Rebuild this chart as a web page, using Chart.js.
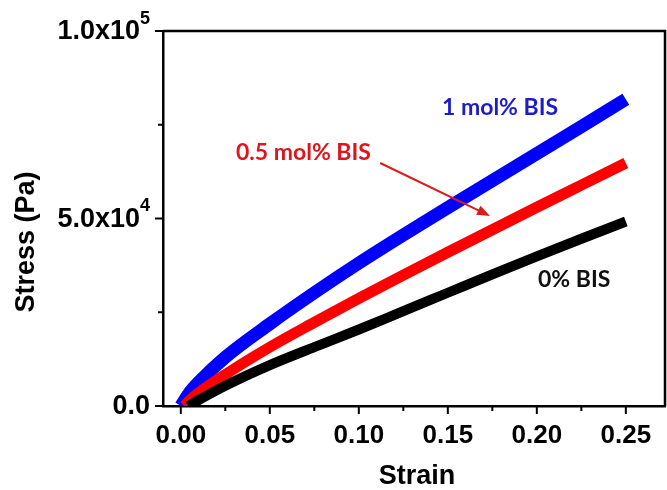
<!DOCTYPE html>
<html><head><meta charset="utf-8">
<script src="https://cdn.jsdelivr.net/npm/chart.js@4/dist/chart.umd.min.js"></script>
<style>html,body{margin:0;padding:0;background:#fff}</style>
</head><body>
<canvas id="c" width="667" height="490"></canvas>
<script>
// ---- data ----
const seriesNames = ['0% BIS', '0.5 mol% BIS', '1 mol% BIS'];
const strainBlack = [0.004, 0.01, 0.025, 0.05, 0.075, 0.1, 0.125, 0.15, 0.175, 0.2, 0.225, 0.25];
const stressBlack = [0, 1600, 5400, 10900, 15700, 20400, 25300, 30200, 35100, 39900, 44600, 49200];
const strainRed = [0.002, 0.005, 0.01, 0.025, 0.05, 0.075, 0.1, 0.125, 0.15, 0.175, 0.2, 0.225, 0.25];
const stressRed = [0, 1500, 3500, 8400, 15700, 22300, 28700, 34900, 41000, 47000, 53000, 58900, 64800];
const strainBlue = [0, 0.005, 0.01, 0.025, 0.05, 0.075, 0.1, 0.125, 0.15, 0.175, 0.2, 0.225, 0.25];
const stressBlue = [0, 3600, 6300, 13000, 21900, 30200, 38100, 45600, 52900, 60100, 67300, 74500, 81800];
const xTickValues = [0, 0.05, 0.10, 0.15, 0.20, 0.25];
const xMinorValues = [0.025, 0.075, 0.125, 0.175, 0.225];
const yTickValues = [0, 50000, 100000];
const yTickMain = ['0.0', '5.0x10', '1.0x10'];
const yTickSup = ['', '4', '5'];
const yMinorValues = [25000, 75000];

const pts = (xs, ys) => xs.map((x, i) => ({x: x, y: ys[i]}));
const AX = "'Liberation Sans', Arial, sans-serif";
const CAL = "Lato, 'Open Sans', sans-serif";

const deco = {
  id: 'deco',
  afterDraw(chart) {
    const c = chart.ctx, xs = chart.scales.x, ys = chart.scales.y, a = chart.chartArea;
    c.save();
    c.strokeStyle = '#000'; c.lineWidth = 2.5; c.lineCap = 'butt';
    // frame top and right
    c.beginPath();
    c.moveTo(a.left, a.top); c.lineTo(a.right, a.top); c.lineTo(a.right, a.bottom);
    c.stroke();
    // ticks
    c.lineWidth = 2;
    xTickValues.forEach(v => { const p = xs.getPixelForValue(v); c.beginPath(); c.moveTo(p, a.bottom); c.lineTo(p, a.bottom + 8); c.stroke(); });
    xMinorValues.forEach(v => { const p = xs.getPixelForValue(v); c.beginPath(); c.moveTo(p, a.bottom); c.lineTo(p, a.bottom + 5); c.stroke(); });
    yTickValues.forEach(v => { const p = ys.getPixelForValue(v); c.beginPath(); c.moveTo(a.left, p); c.lineTo(a.left - 8, p); c.stroke(); });
    yMinorValues.forEach(v => { const p = ys.getPixelForValue(v); c.beginPath(); c.moveTo(a.left, p); c.lineTo(a.left - 5, p); c.stroke(); });
    // y tick labels with superscripts
    c.fillStyle = '#000'; c.textBaseline = 'middle';
    yTickValues.forEach((v, i) => {
      const p = ys.getPixelForValue(v);
      c.font = 'bold 18px ' + AX;
      const sw = yTickSup[i] ? c.measureText(yTickSup[i]).width : 0;
      const right = a.left - 13;
      c.textAlign = 'right';
      if (yTickSup[i]) c.fillText(yTickSup[i], right, p - 12);
      c.font = 'bold 27px ' + AX;
      c.fillText(yTickMain[i], right - sw, p + 1);
    });
    // axis titles
    c.font = 'bold 27px ' + AX; c.textAlign = 'center';
    c.fillText('Strain', (a.left + a.right) / 2 + 3, 477);
    c.save(); c.translate(27, 242); c.rotate(-Math.PI / 2); c.fillText('Stress (Pa)', 0, 0); c.restore();
    // annotations
    c.textAlign = 'left';
    c.font = 'bold 23px ' + CAL;
    c.fillStyle = '#1c1cc8'; c.fillText('1 mol% BIS', 442, 108);
    c.fillStyle = '#e0141c'; c.fillText('0.5 mol% BIS', 236, 153);
    c.fillStyle = '#111'; c.fillText('0% BIS', 538, 280);
    // arrow
    const x0 = xs.getPixelForValue(0.112), y0 = ys.getPixelForValue(64800);
    const x1 = xs.getPixelForValue(0.1737), y1 = ys.getPixelForValue(50700);
    const ang = Math.atan2(y1 - y0, x1 - x0);
    c.strokeStyle = '#dd1a1a'; c.fillStyle = '#dd1a1a'; c.lineWidth = 2;
    c.beginPath(); c.moveTo(x0, y0); c.lineTo(x1 - 10 * Math.cos(ang), y1 - 10 * Math.sin(ang)); c.stroke();
    c.beginPath();
    c.moveTo(x1, y1);
    c.lineTo(x1 - 13 * Math.cos(ang) + 5 * Math.sin(ang), y1 - 13 * Math.sin(ang) - 5 * Math.cos(ang));
    c.lineTo(x1 - 13 * Math.cos(ang) - 5 * Math.sin(ang), y1 - 13 * Math.sin(ang) + 5 * Math.cos(ang));
    c.closePath(); c.fill();
    c.restore();
  }
};

new Chart(document.getElementById('c').getContext('2d'), {
  type: 'line',
  data: {
    datasets: [
      {label: seriesNames[0], data: pts(strainBlack, stressBlack), borderColor: '#000000', borderWidth: 10},
      {label: seriesNames[1], data: pts(strainRed, stressRed), borderColor: '#ff0000', borderWidth: 11},
      {label: seriesNames[2], data: pts(strainBlue, stressBlue), borderColor: '#0000ff', borderWidth: 13}
    ]
  },
  options: {
    responsive: false,
    animation: false,
    layout: {padding: {top: 31, right: 2, left: 0, bottom: 0}},
    elements: {point: {radius: 0}, line: {cubicInterpolationMode: 'monotone', fill: false}},
    plugins: {legend: {display: false}, tooltip: {enabled: false}},
    scales: {
      x: {
        type: 'linear', min: -0.01, max: 0.272,
        afterBuildTicks: s => { s.ticks = xTickValues.map(v => ({value: v})); },
        afterFit: s => { s.height = 84; },
        ticks: {callback: v => v.toFixed(2), color: '#000', padding: 6, maxRotation: 0, autoSkip: false,
                font: {family: 'Liberation Sans', size: 26, weight: 'bold'}},
        grid: {display: false},
        border: {display: true, color: '#000', width: 2.5}
      },
      y: {
        type: 'linear', min: 0, max: 100000,
        afterFit: s => { s.width = 163; },
        ticks: {display: false},
        grid: {display: false},
        border: {display: true, color: '#000', width: 2.5}
      }
    }
  },
  plugins: [deco]
});
</script>
</body></html>
